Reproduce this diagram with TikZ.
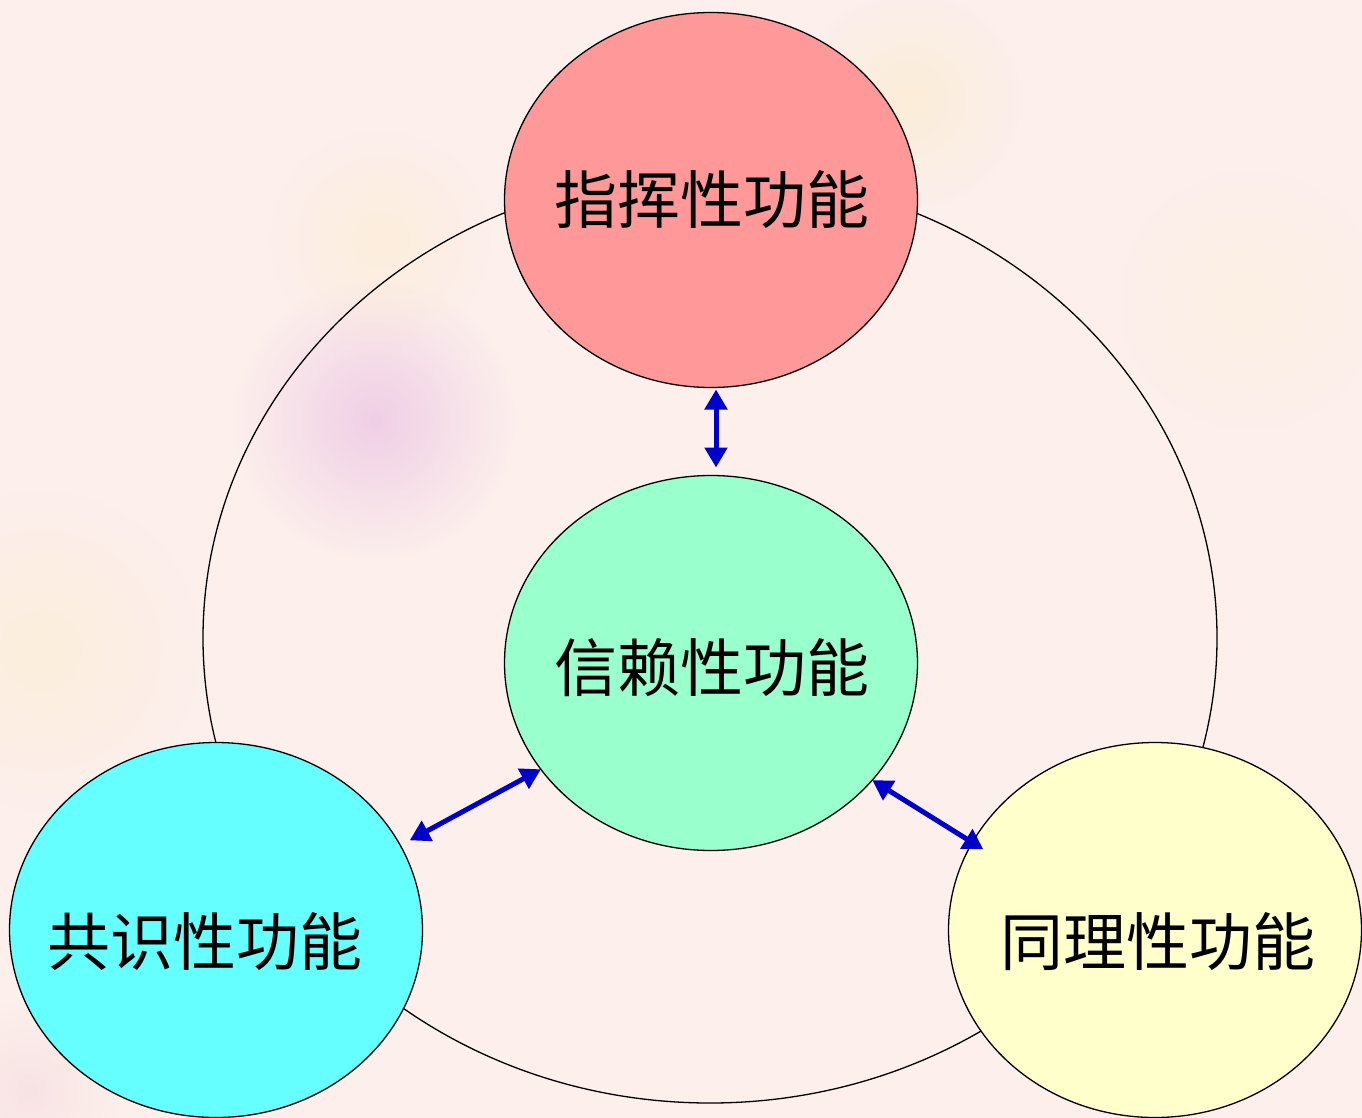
\documentclass[tikz,border=0pt]{standalone}
\usepackage{fontspec}
\newfontfamily\cjk{Noto Sans CJK SC}
\usetikzlibrary{shapes.geometric,arrows.meta,fadings}
\definecolor{bg}{HTML}{FCEFEC}
\definecolor{redfill}{HTML}{FF9999}
\definecolor{greenfill}{HTML}{99FFCC}
\definecolor{cyanfill}{HTML}{66FFFF}
\definecolor{yellowfill}{HTML}{FFFFCC}
\definecolor{arrowblue}{HTML}{0000CC}
\tikzfading[name=softfade, inner color=transparent!0, outer color=transparent!100]
\tikzset{
  func/.style={ellipse, draw=black, line width=1.3pt, minimum width=413pt, minimum height=375pt, inner sep=0pt, outer sep=0pt},
  label text/.style={font=\cjk\fontsize{63}{63}\selectfont, text=black, inner sep=0pt},
  ring/.style={ellipse, draw=black, line width=1.3pt, minimum width=1014pt, minimum height=930pt, inner sep=0pt},
  biarrow/.style={draw=arrowblue, line width=5pt, {Triangle[length=20pt,width=22pt]}-{Triangle[length=20pt,width=22pt]}},
  blob/.style={path fading=softfade, fill opacity=#1},
  blob/.default=0.6
}
\begin{document}
\begin{tikzpicture}[x=1pt,y=-1pt]
\useasboundingbox (0,0) rectangle (1362,1118);
\fill[bg] (0,0) rectangle (1362,1118);
% soft background texture
\fill[blob=0.55, color={rgb,255:red,230;green,180;blue,225}] (375,420) circle (140);
\fill[blob=0.4, color={rgb,255:red,250;green,235;blue,185}] (910,100) circle (110);
\fill[blob=0.45, color={rgb,255:red,252;green,238;blue,200}] (40,650) circle (160);
\fill[blob=0.4, color={rgb,255:red,252;green,236;blue,195}] (380,240) circle (110);
\fill[blob=0.5, color={rgb,255:red,245;green,215;blue,220}] (30,1090) circle (90);
\fill[blob=0.35, color={rgb,255:red,252;green,240;blue,210}] (1250,300) circle (130);
% outer ring
\node[ring] (ring) at (710,638) {};
% function ellipses
\node[func, fill=redfill] (top) at (711,200) {};
\node[func, fill=greenfill] (mid) at (711,663) {};
\node[func, fill=cyanfill] (left) at (216,930) {};
\node[func, fill=yellowfill] (right) at (1155,930) {};
% texts
\node[label text] (toptext) at (712,200) {指挥性功能};
\node[label text] (midtext) at (712,668) {信赖性功能};
\node[label text] (lefttext) at (205,942) {共识性功能};
\node[label text] (righttext) at (1158,942) {同理性功能};
% connectors
\draw[biarrow] ([xshift=5pt,yshift=-2pt]top.south) -- ([xshift=5pt,yshift=8pt]mid.north);
\draw[biarrow] ([xshift=10pt,yshift=4pt]left.25) -- (mid.212);
\draw[biarrow] (mid.-36) -- ([xshift=12pt,yshift=-5pt]right.155);
\end{tikzpicture}
\end{document}
